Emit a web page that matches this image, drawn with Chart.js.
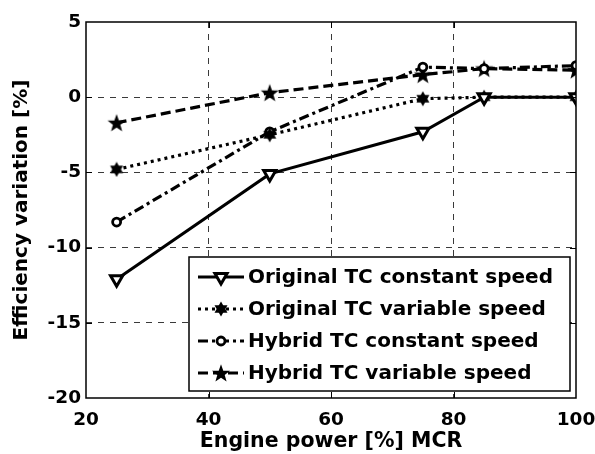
<!DOCTYPE html>
<html><head><meta charset="utf-8">
<script src="https://cdn.jsdelivr.net/npm/chart.js@4.4.0/dist/chart.umd.min.js"></script>
<style>html,body{margin:0;padding:0;background:#fff;}</style>
</head><body>
<canvas id="c" width="595" height="454"></canvas>
<script>
// ---- data ----
const powerMCR = [25, 50, 75, 85, 100];
const originalConst = [-12.1, -5.1, -2.3, 0, 0];
const originalVar = [-4.8, -2.5, -0.1, 0, 0];
const hybridConst = [-8.3, -2.3, 2.0, 1.9, 2.1];
const hybridVar = [-1.7, 0.3, 1.5, 1.9, 1.8];
const seriesLabels = ['Original TC constant speed', 'Original TC variable speed', 'Hybrid TC constant speed', 'Hybrid TC variable speed'];
const xTicks = [20, 40, 60, 80, 100];
const yTicks = [-20, -15, -10, -5, 0, 5];
const xTitle = 'Engine power [%] MCR';
const yTitle = 'Efficiency variation [%]';

const FONT = '"DejaVu Sans", sans-serif';

function makeHexagram(size, r) {
  const c = document.createElement('canvas');
  c.width = size; c.height = size;
  const g = c.getContext('2d');
  g.fillStyle = '#000';
  const cx = size / 2, cy = size / 2;
  for (const off of [-Math.PI / 2, Math.PI / 2]) {
    g.beginPath();
    for (let i = 0; i < 3; i++) {
      const a = off + i * 2 * Math.PI / 3;
      const px = cx + r * Math.cos(a), py = cy + r * Math.sin(a);
      i ? g.lineTo(px, py) : g.moveTo(px, py);
    }
    g.closePath(); g.fill();
  }
  return c;
}
function makeStar(size, ro, ri) {
  const c = document.createElement('canvas');
  c.width = size; c.height = size;
  const g = c.getContext('2d');
  g.fillStyle = '#000';
  const cx = size / 2, cy = size / 2 + 0.8;
  g.beginPath();
  for (let i = 0; i < 10; i++) {
    const a = -Math.PI / 2 + i * Math.PI / 5;
    const r = i % 2 ? ri : ro;
    const px = cx + r * Math.cos(a), py = cy + r * Math.sin(a);
    i ? g.lineTo(px, py) : g.moveTo(px, py);
  }
  g.closePath(); g.fill();
  return c;
}
const hexImg = makeHexagram(16, 7.5);
const starImg = makeStar(20, 9.5, 3.9);

function pts(ys) { return powerMCR.map((x, i) => ({x: x, y: ys[i]})); }

const datasets = [
  {label: seriesLabels[0], data: pts(originalConst), borderColor: '#000', borderWidth: 3, borderDash: [],
   pointStyle: 'triangle', pointRotation: 180, pointRadius: 7, pointBorderWidth: 3,
   pointBackgroundColor: '#fff', pointBorderColor: '#000'},
  {label: seriesLabels[1], data: pts(originalVar), borderColor: '#000', borderWidth: 3.2, borderDash: [3, 4],
   pointStyle: hexImg, pointRadius: 8, pointBorderWidth: 0,
   pointBackgroundColor: '#000', pointBorderColor: '#000'},
  {label: seriesLabels[2], data: pts(hybridConst), borderColor: '#000', borderWidth: 3.2, borderDash: [10, 4, 3, 4],
   pointStyle: 'circle', pointRadius: 4, pointBorderWidth: 2.8,
   pointBackgroundColor: '#fff', pointBorderColor: '#000'},
  {label: seriesLabels[3], data: pts(hybridVar), borderColor: '#000', borderWidth: 3.2, borderDash: [10, 5],
   pointStyle: starImg, pointRadius: 10, pointBorderWidth: 0,
   pointBackgroundColor: '#000', pointBorderColor: '#000'}
];
datasets.forEach(d => { d.fill = false; d.tension = 0; d.showLine = true; });

const gridColor = ctx => (ctx.tick && (ctx.index === 0 || ctx.index === ctx.chart.scales[ctx.scale.id].ticks.length - 1)) ? 'rgba(0,0,0,0)' : '#3a3a3a';

const framePlugin = {
  id: 'frameLegend',
  afterDraw(chart) {
    const ctx = chart.ctx;
    const a = chart.chartArea;
    const xs = chart.scales.x, ys = chart.scales.y;
    ctx.save();
    // legend box (inside plot, lower right)
    const L = 189, T = 257, R = 570, B = 391;
    ctx.fillStyle = '#fff';
    ctx.fillRect(L, T, R - L, B - T);
    ctx.strokeStyle = '#000';
    ctx.lineWidth = 1.5;
    ctx.setLineDash([]);
    ctx.strokeRect(L, T, R - L, B - T);
    const rowH = 32, firstY = 277;
    chart.data.datasets.forEach((ds, i) => {
      const y = firstY + i * rowH;
      ctx.save();
      ctx.strokeStyle = '#000';
      ctx.lineWidth = ds.borderWidth;
      ctx.setLineDash(ds.borderDash || []);
      ctx.beginPath(); ctx.moveTo(198, y); ctx.lineTo(244, y); ctx.stroke();
      ctx.setLineDash([]);
      ctx.fillStyle = ds.pointBackgroundColor;
      ctx.strokeStyle = ds.pointBorderColor;
      ctx.lineWidth = ds.pointBorderWidth;
      Chart.helpers.drawPoint(ctx, {pointStyle: ds.pointStyle, rotation: ds.pointRotation || 0,
        radius: ds.pointRadius, borderWidth: ds.pointBorderWidth}, 221, y);
      ctx.restore();
      ctx.fillStyle = '#000';
      ctx.font = 'bold 20px ' + FONT;
      ctx.textBaseline = 'middle';
      ctx.textAlign = 'left';
      ctx.fillText(ds.label, 248, y + 1);
    });
    // inward tick marks
    ctx.strokeStyle = '#000';
    ctx.lineWidth = 1;
    ctx.setLineDash([]);
    const tl = 6;
    ctx.beginPath();
    xTicks.slice(1, -1).forEach(v => {
      const px = Math.round(xs.getPixelForValue(v)) + 0.5;
      ctx.moveTo(px, a.bottom); ctx.lineTo(px, a.bottom - tl);
      ctx.moveTo(px, a.top); ctx.lineTo(px, a.top + tl);
    });
    yTicks.slice(1, -1).forEach(v => {
      const py = Math.round(ys.getPixelForValue(v)) + 0.5;
      ctx.moveTo(a.left, py); ctx.lineTo(a.left + tl, py);
      ctx.moveTo(a.right, py); ctx.lineTo(a.right - tl, py);
    });
    ctx.stroke();
    // plot frame
    ctx.lineWidth = 1.5;
    ctx.strokeRect(a.left, a.top, a.right - a.left, a.bottom - a.top);
    ctx.restore();
  }
};

new Chart(document.getElementById('c'), {
  type: 'line',
  data: {datasets: datasets},
  options: {
    responsive: false,
    devicePixelRatio: 1,
    animation: false,
    layout: {padding: {left: 0, top: 22, right: 19, bottom: 0}},
    plugins: {legend: {display: false}, tooltip: {enabled: false}},
    scales: {
      x: {
        type: 'linear', min: 20, max: 100,
        afterBuildTicks: s => { s.ticks = xTicks.map(v => ({value: v})); },
        afterFit: s => { s.height = 56; s.paddingLeft = 0; s.paddingRight = 0; },
        ticks: {color: '#000', padding: 11, font: {family: FONT, size: 18.5, weight: 'bold'}},
        grid: {color: gridColor, lineWidth: 1, drawTicks: false},
        border: {display: false, dash: [6, 6]},
        title: {display: true, text: xTitle, color: '#000', padding: {top: 0, bottom: 0},
                font: {family: FONT, size: 20.5, weight: 'bold'}}
      },
      y: {
        type: 'linear', min: -20, max: 5,
        afterBuildTicks: s => { s.ticks = yTicks.map(v => ({value: v})); },
        afterFit: s => { s.width = 86; s.paddingTop = 0; s.paddingBottom = 0; },
        ticks: {color: '#000', padding: 5, font: {family: FONT, size: 18.5, weight: 'bold'}},
        grid: {color: gridColor, lineWidth: 1, drawTicks: false},
        border: {display: false, dash: [6, 6]},
        title: {display: true, text: yTitle, color: '#000', padding: {top: 10, bottom: 0},
                font: {family: FONT, size: 20, weight: 'bold'}}
      }
    }
  },
  plugins: [framePlugin]
});
</script>
</body></html>
